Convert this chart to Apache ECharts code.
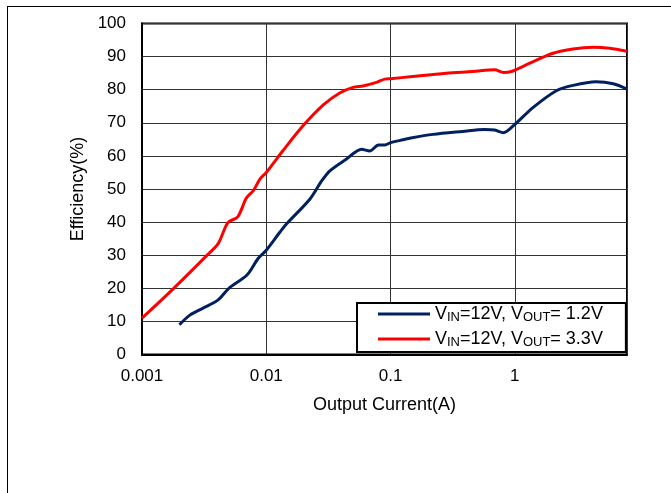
<!DOCTYPE html>
<html>
<head>
    <meta charset="UTF-8">
    <title>Efficiency vs Output Current</title>
    <style>
        html, body { margin: 0; padding: 0; background: #fff; }
        #main { width: 671px; height: 493px; }
    </style>
    <script src="https://cdn.jsdelivr.net/npm/echarts@6/dist/echarts.min.js"></script>
</head>
<body>
    <div id="main"></div>
    <script type="text/javascript">
        // 数据: 输出电流(A) 与 效率(%)
        var currentA = [0.002, 0.00243, 0.0031, 0.0041, 0.005, 0.007, 0.0086, 0.01, 0.0129, 0.0146,
            0.0225, 0.028, 0.0325, 0.044, 0.0585, 0.068, 0.08, 0.09, 0.1, 0.12, 0.15, 0.22, 0.38,
            0.57, 0.69, 0.81, 0.98, 1.4, 2.16, 2.94, 4.5, 6.2, 8];
        var effA = [9, 11.9, 14, 16.5, 20, 24, 29, 31.5, 37, 39.5,
            47, 52.5, 55.5, 59, 62, 61.5, 63.3, 63.3, 64, 64.7, 65.5, 66.5, 67.4,
            68, 67.8, 67, 69.2, 74.6, 79.7, 81.3, 82.4, 81.8, 80.2];

        var currentB = [0.001, 0.0018, 0.0033, 0.0041, 0.0049, 0.0059, 0.0069, 0.0079, 0.0089, 0.01,
            0.0137, 0.02, 0.0288, 0.039, 0.05, 0.06, 0.077, 0.09, 0.1, 0.15, 0.28, 0.46, 0.69,
            0.81, 0.94, 1.32, 2.03, 2.94, 4.27, 5.8, 8];
        var effB = [11, 20, 29.8, 33.5, 39.8, 41.6, 47.2, 49.6, 53, 55,
            61.7, 69.3, 75.4, 79, 80.7, 81.1, 82.2, 83.2, 83.3, 84, 85, 85.5, 86,
            85.2, 85.5, 88, 91, 92.3, 92.8, 92.5, 91.6];

        var nameA = 'VIN=12V, VOUT= 1.2V';
        var nameB = 'VIN=12V, VOUT= 3.3V';

        function pairs(xs, ys) {
            var out = [];
            for (var i = 0; i < xs.length; i++) out.push([xs[i], ys[i]]);
            return out;
        }

        var myChart = echarts.init(document.getElementById('main'));
        var font = 'Liberation Sans, Arial, sans-serif';

        var option = {
            animation: false,
            textStyle: { fontFamily: font },
            graphic: [
                { type: 'line', shape: { x1: 7.5, y1: 6, x2: 7.5, y2: 493 }, style: { stroke: '#000', lineWidth: 1 } },
                { type: 'line', shape: { x1: 7, y1: 6.5, x2: 671, y2: 6.5 }, style: { stroke: '#000', lineWidth: 1 } }
            ],
            grid: {
                left: 142,
                right: 44,
                top: 23.5,
                bottom: 138.5,
                show: true,
                borderColor: '#000',
                borderWidth: 2,
                containLabel: false,
                outerBoundsMode: 'none'
            },
            legend: {
                orient: 'vertical',
                left: 357,
                top: 303,
                backgroundColor: '#fff',
                borderColor: '#000',
                borderWidth: 2,
                borderRadius: 0,
                padding: [2, 23, 3, 21],
                itemGap: 6,
                itemWidth: 52,
                itemHeight: 3,
                icon: 'rect',
                data: [nameA, nameB],
                formatter: function (name) {
                    var v = name === nameA ? '1.2V' : '3.3V';
                    return '{n|V}{s|IN}{n|=12V, V}{s|OUT}{n|= ' + v + '}';
                },
                textStyle: {
                    rich: {
                        n: { fontSize: 18, lineHeight: 20, color: '#000', fontFamily: font },
                        s: { fontSize: 13, lineHeight: 13, color: '#000', fontFamily: font, verticalAlign: 'bottom' }
                    }
                }
            },
            xAxis: {
                type: 'log',
                logBase: 10,
                min: 0.001,
                max: 8,
                name: 'Output Current(A)',
                nameLocation: 'middle',
                nameGap: 42,
                nameTextStyle: { fontSize: 18, color: '#000', fontFamily: font },
                axisLine: { show: true, lineStyle: { color: '#000', width: 2 } },
                axisTick: { show: false },
                axisLabel: {
                    margin: 13,
                    fontSize: 17,
                    color: '#000',
                    fontFamily: font,
                    formatter: function (v) {
                        var e = Math.log10(v);
                        if (Math.abs(e - Math.round(e)) > 1e-6) return '';
                        return String(Number(v.toPrecision(3)));
                    }
                },
                splitLine: { show: true, lineStyle: { color: '#333', width: 1 } },
                minorSplitLine: { show: false }
            },
            yAxis: {
                type: 'value',
                min: 0,
                max: 100,
                interval: 10,
                name: 'Efficiency(%)',
                nameLocation: 'middle',
                nameGap: 54,
                nameTextStyle: { fontSize: 18, color: '#000', fontFamily: font },
                axisLine: { show: true, lineStyle: { color: '#000', width: 2 } },
                axisTick: { show: false },
                axisLabel: { margin: 16, fontSize: 17, color: '#000', fontFamily: font },
                splitLine: { show: true, lineStyle: { color: '#333', width: 1 } }
            },
            series: [
                {
                    name: nameA,
                    type: 'line',
                    data: pairs(currentA, effA),
                    symbol: 'none',
                    smooth: 0.3,
                    lineStyle: { color: '#002060', width: 3 },
                    itemStyle: { color: '#002060' }
                },
                {
                    name: nameB,
                    type: 'line',
                    data: pairs(currentB, effB),
                    symbol: 'none',
                    smooth: 0.3,
                    lineStyle: { color: '#ff0000', width: 3 },
                    itemStyle: { color: '#ff0000' }
                }
            ]
        };

        myChart.setOption(option);
    </script>
</body>
</html>
